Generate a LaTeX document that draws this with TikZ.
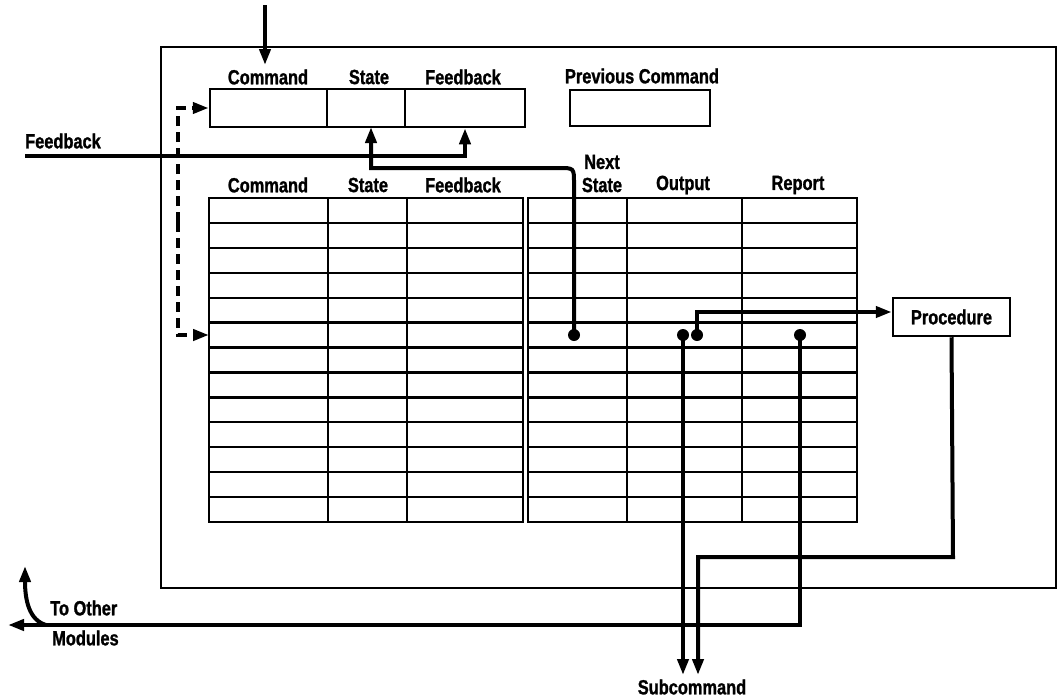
\documentclass[tikz,border=0pt]{standalone}
\usepackage{fontspec}
\setmainfont[FakeStretch=0.8, BoldFeatures={FakeBold=1.2}]{Liberation Sans}
\usetikzlibrary{arrows.meta}
\begin{document}
\begin{tikzpicture}[x=1pt,y=-1pt,
  lbl/.style={font=\fontsize{20.5}{22}\selectfont\bfseries, inner sep=0pt},
  cell/.style={draw, line width=2.5pt, inner sep=0pt},
  conn/.style={line width=4pt},
  tip/.style={-{Triangle[length=16pt,width=11pt]}},
  dashconn/.style={line width=4pt, dash pattern=on 10pt off 6pt},
  tline/.style={line width=2.3pt},
  dotmark/.style={fill, circle, minimum size=12pt, inner sep=0pt}
]
\useasboundingbox (0,0) rectangle (1061,699);
% outer box
\draw[line width=2.2pt] (161,47) rectangle (1056,588);
% register
\node[cell, minimum width=117pt, minimum height=38pt] (rcmd) at (268.5,108) {};
\node[cell, minimum width=78pt, minimum height=38pt] (rst) at (366,108) {};
\node[cell, minimum width=120pt, minimum height=38pt] (rfb) at (465,108) {};
\node[cell, minimum width=140pt, minimum height=36pt] (prev) at (640,108) {};
% register labels
\node[lbl] (h1cmd) at (268,77) {Command};
\node[lbl] (h1st) at (369,77) {State};
\node[lbl] (h1fb) at (463,77) {Feedback};
\node[lbl] (hprev) at (642,76) {Previous Command};
% table labels
\node[lbl] (h2cmd) at (268,185) {Command};
\node[lbl] (h2st) at (368,185) {State};
\node[lbl] (h2fb) at (463,185) {Feedback};
\node[lbl] (hnext) at (602,162) {Next};
\node[lbl] (hns) at (602,185) {State};
\node[lbl] (hout) at (683,185) {Output};
\node[lbl] (hrep) at (798,185) {Report};
% table
\draw[tline] (209,198) rectangle (523,522);
\draw[tline] (528,198) rectangle (857,522);
\foreach \x in {328,407} \draw[tline] (\x,198) -- (\x,522);
\foreach \x in {627,742} \draw[tline] (\x,198) -- (\x,522);
\foreach \i in {1,...,12} {
  \draw[tline] (209,198+\i*24.92) -- (523,198+\i*24.92);
  \draw[tline] (528,198+\i*24.92) -- (857,198+\i*24.92);
}
% procedure
\node[cell, minimum width=117pt, minimum height=38pt, lbl, draw] (proc) at (951.5,317) {Procedure};
% other labels
\node[lbl] (lfb) at (63,141) {Feedback};
\node[lbl, anchor=west] (lto) at (50,608) {To Other};
\node[lbl, anchor=west] (lmod) at (52,638) {Modules};
\node[lbl] (lsub) at (692,687) {Subcommand};
% dots
\node[dotmark] (dns) at (574,335) {};
\node[dotmark] (dout1) at (683,335) {};
\node[dotmark] (dout2) at (697,335) {};
\node[dotmark] (drep) at (800,335) {};
% coordinates
\coordinate (topin) at (265,5);
\coordinate (topend) at (265,65);
\coordinate (fbin) at (25,156);
\coordinate (trow) at (209,335);
\coordinate (dj) at (178,222);
\coordinate (subL) at (683,675);
\coordinate (subR) at (698,675);
\coordinate (othL) at (8,625);
\coordinate (othU) at (25,566);
\coordinate (othJ) at (46,625);
% connectors
\draw[conn, tip] (topin) -- (topend);
\draw[conn, tip] (fbin) -- (465,156) -- (rfb.south);
\draw[conn, tip] (dns.center) -- (574,183) .. controls (574,168) .. (559,168) -- (371,168) -- (371,127);
\draw[dashconn, tip] (dj) |- (rcmd.west);
\draw[dashconn, tip] (dj) |- (trow);
\draw[conn, tip] (dout2.center) |- ([yshift=5pt]proc.west);
\draw[conn, tip] (dout1.center) -- (subL);
\draw[conn, tip] (proc.south) -- (953,557) -| (subR);
\draw[conn, tip] (drep.center) |- (othL);
\draw[conn, tip] (othJ) .. controls (29,620) and (25,600) .. (othU);
\end{tikzpicture}
\end{document}
